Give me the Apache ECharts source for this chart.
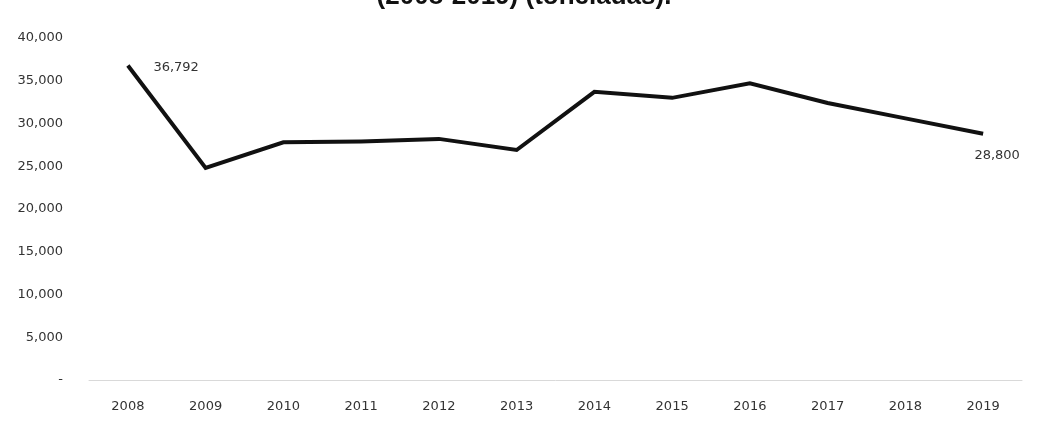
<!DOCTYPE html>
<html>
<head>
<meta charset="utf-8">
<script src="https://cdn.jsdelivr.net/npm/echarts@6/dist/echarts.min.js"></script>
<style>
html,body{margin:0;padding:0;background:#fff;}
#c{width:1038px;height:425px;}
</style>
</head>
<body>
<div id="c"></div>
<script>
const titleText = "(2008-2019) (toneladas).";
const years = ["2008","2009","2010","2011","2012","2013","2014","2015","2016","2017","2018","2019"];
const tonnes = [36792, 24800, 27800, 27900, 28200, 26900, 33700, 33000, 34700, 32400, 30600, 28800];
const yTicks = [0, 5000, 10000, 15000, 20000, 25000, 30000, 35000, 40000];

const chart = echarts.init(document.getElementById('c'), null, {renderer:'canvas'});
const fmt = v => v === 0 ? '-' : v.toLocaleString('en-US');
const lastIdx = tonnes.length - 1;
const FONT = 'DejaVu Sans';

chart.setOption({
  animation:false,
  backgroundColor:'#ffffff',
  title:{
    text:titleText,
    left:519, textAlign:'center', top:-21,
    textStyle:{fontFamily:'Liberation Sans', fontWeight:'bold', fontSize:26, color:'#111'}
  },
  grid:{left:89, right:16, top:38, bottom:45, containLabel:false},
  xAxis:{
    type:'category',
    data:years,
    boundaryGap:true,
    axisLine:{show:true, lineStyle:{color:'#d9d9d9', width:1}},
    axisTick:{show:false},
    axisLabel:{margin:20, fontFamily:FONT, fontSize:13, color:'#333'}
  },
  yAxis:{
    type:'value',
    min:yTicks[0], max:yTicks[yTicks.length-1], interval:yTicks[1]-yTicks[0],
    axisLine:{show:false},
    axisTick:{show:false},
    splitLine:{show:false},
    axisLabel:{margin:26, fontFamily:FONT, fontSize:13, color:'#333', formatter:fmt}
  },
  series:[{
    type:'line',
    data:tonnes.map((v,i)=>({
      value:v,
      label:{
        show: i===0 || i===lastIdx,
        position: i===0 ? 'right' : 'bottom',
        offset: i===0 ? [20,2] : [14,10],
        formatter: p => fmt(p.value),
        fontFamily:FONT, fontSize:13, color:'#333'
      }
    })),
    showSymbol:true,
    symbol:'circle',
    symbolSize:1,
    itemStyle:{color:'rgba(0,0,0,0)', borderWidth:0},
    lineStyle:{color:'#111', width:4, join:'miter'}
  }]
});
</script>
</body>
</html>
